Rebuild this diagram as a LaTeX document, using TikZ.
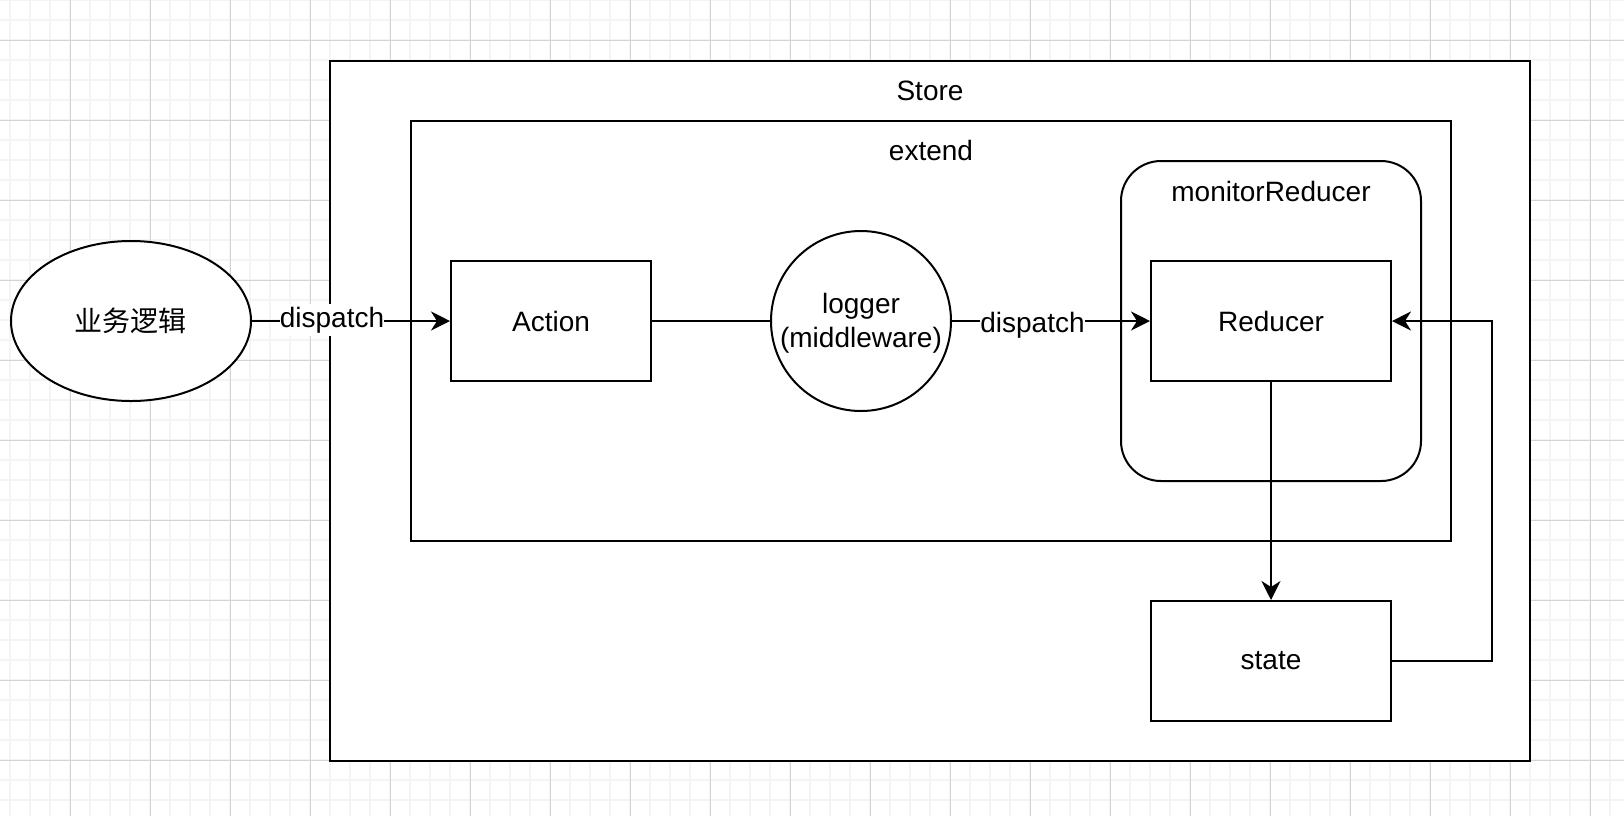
\documentclass[tikz,border=0pt]{standalone}
\usepackage{fontspec}
\setmainfont{Liberation Sans}
\newfontfamily\cjk{Noto Sans CJK SC}
\usetikzlibrary{arrows.meta,shapes.geometric}
\definecolor{gridminor}{HTML}{F4F4F4}
\definecolor{gridmajor}{HTML}{D4D4D4}
\begin{document}
\begin{tikzpicture}[x=0.5pt,y=-0.5pt,
  every node/.style={font=\fontsize{14}{17}\selectfont},
  frame/.style={draw, line width=1pt, fill=white, inner sep=0pt},
  txt/.style={inner sep=0pt},
  lbl/.style={fill=white, inner xsep=0pt, inner ysep=1.5pt},
  conn/.style={line width=1pt},
  arr/.style={line width=1pt, -{Stealth[length=9.5pt,width=9.5pt,inset=3pt]}}
]
\useasboundingbox (0,0) rectangle (1624,816);
\fill[white] (0,0) rectangle (1624,816);
% background grid
\foreach \x in {10,30,...,1610} \draw[gridminor, line width=0.6pt] (\x,0) -- (\x,816);
\foreach \y in {0,20,...,800} \draw[gridminor, line width=0.6pt] (0,\y) -- (1624,\y);
\foreach \x in {70,150,...,1590} \draw[gridmajor, line width=0.5pt] (\x,0) -- (\x,816);
\foreach \y in {40,120,...,760} \draw[gridmajor, line width=0.5pt] (0,\y) -- (1624,\y);

% containers
\node[frame, minimum width=600pt, minimum height=350pt] (store) at (930,411) {};
\node[txt, anchor=base] (storelbl) at (930,100) {Store};
\node[frame, minimum width=520pt, minimum height=210pt] (extend) at (931,331) {};
\node[txt, anchor=base] (extendlbl) at (931,160) {extend};
\node[frame, rounded corners=20pt, minimum width=150pt, minimum height=160pt] (monitor) at (1271,321) {};
\node[txt, anchor=base] (monlbl) at (1271,201) {monitorReducer};

% nodes
\node[frame, ellipse, minimum width=120pt, minimum height=80pt, font=\cjk\fontsize{14}{17}\selectfont] (biz) at (131,321) {业务逻辑};
\node[frame, minimum width=100pt, minimum height=60pt] (action) at (551,321) {Action};
\node[frame, circle, minimum size=90pt, align=center, text depth=1pt] (logger) at (861,321) {logger\\(middleware)};
\node[frame, minimum width=120pt, minimum height=60pt] (reducer) at (1271,321) {Reducer};
\node[frame, minimum width=120pt, minimum height=60pt] (state) at (1271,661) {state};

% connectors
\draw[arr] (biz) -- (action);
\draw[conn] (action) -- (logger);
\draw[arr] (logger) -- (reducer);
\draw[arr] (reducer) -- (state);
\draw[arr] (state.east) -- ++(100,0) |- (reducer.east);

% edge labels
\node[lbl, anchor=base] (d1) at (332,327) {dispatch};
\node[lbl, anchor=base] (d2) at (1032.5,332) {dispatch};
\end{tikzpicture}
\end{document}
